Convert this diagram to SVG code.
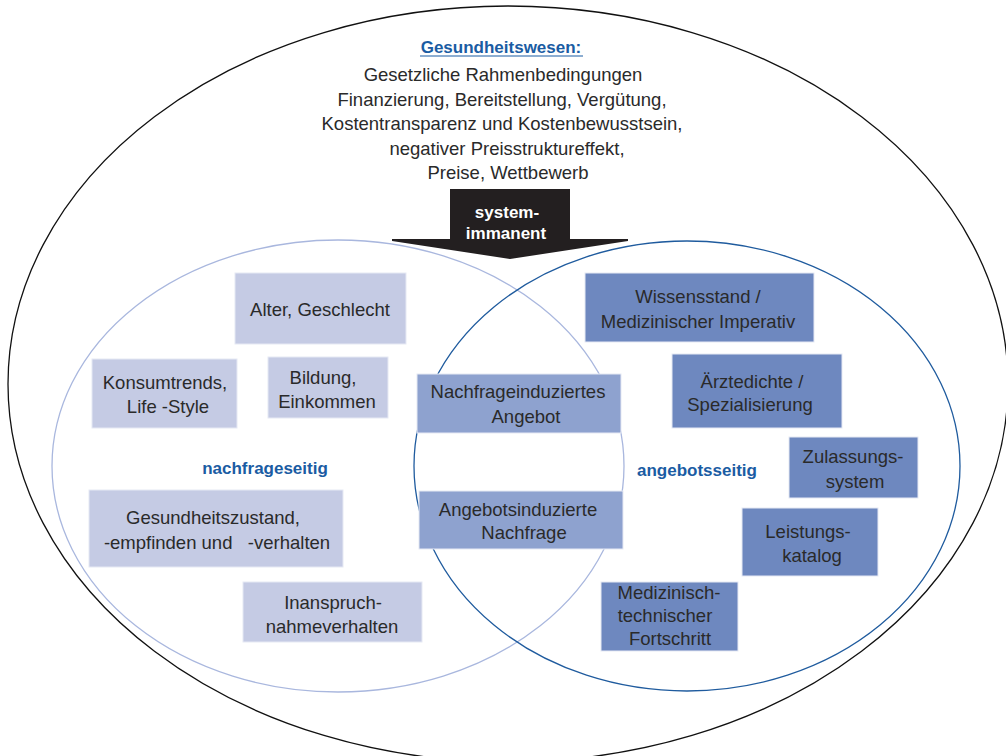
<svg xmlns="http://www.w3.org/2000/svg" width="1006" height="756" viewBox="0 0 1006 756">
<style>
.t{font-family:"Liberation Sans",Arial,sans-serif;font-size:18.5px;fill:#2a2a2a;text-anchor:middle}
.b{font-family:"Liberation Sans",Arial,sans-serif;font-size:17px;font-weight:bold;fill:#1a5ca3;text-anchor:middle}
.w{font-family:"Liberation Sans",Arial,sans-serif;font-size:17px;font-weight:bold;fill:#ffffff;text-anchor:middle}
.l{fill:#c5cbe4;stroke:#e6e9f4;stroke-width:1}
.m{fill:#8ea2cf;stroke:#e6e9f4;stroke-width:1}
.r{fill:#6e88bf;stroke:#e6e9f4;stroke-width:1}
</style>
<rect x="0" y="0" width="1006" height="756" fill="#ffffff"/>
<g id="connectors">
<ellipse id="outer" cx="508" cy="384" rx="500" ry="378" fill="none" stroke="#111111" stroke-width="1.3"/>
<ellipse id="left-circle" cx="338" cy="466" rx="286" ry="226" fill="none" stroke="#a9b7de" stroke-width="1.3"/>
<ellipse id="right-circle" cx="687" cy="466" rx="273" ry="225" fill="none" stroke="#1f5b9e" stroke-width="1.3"/>
</g>
<g id="header">
<text class="b" x="501" y="53">Gesundheitswesen:</text>
<line x1="420" y1="56" x2="583" y2="56" stroke="#1a5ca3" stroke-width="1.2"/>
<text class="t" x="503" y="81">Gesetzliche Rahmenbedingungen</text>
<text class="t" x="502" y="106">Finanzierung, Bereitstellung, Vergütung,</text>
<text class="t" x="502" y="130">Kostentransparenz und Kostenbewusstsein,</text>
<text class="t" x="507" y="155">negativer Preisstruktureffekt,</text>
<text class="t" x="508" y="179">Preise, Wettbewerb</text>
</g>
<g id="arrow">
<polygon points="450,189 570,189 570,239 628,239 628,241 510,259 392,241 392,239 450,239" fill="#231f20"/>
<text class="w" x="507" y="218">system-</text>
<text class="w" x="506" y="239">immanent</text>
</g>
<g id="n-alter"><rect class="l" x="235" y="273" width="171" height="71"/><text class="t" x="320" y="316">Alter, Geschlecht</text></g>
<g id="n-konsum"><rect class="l" x="92" y="359" width="145" height="69"/><text class="t" x="165" y="389">Konsumtrends,</text><text class="t" x="168" y="413">Life -Style</text></g>
<g id="n-bildung"><rect class="l" x="268" y="357" width="120" height="61"/><text class="t" x="323" y="384">Bildung,</text><text class="t" x="327" y="408">Einkommen</text></g>
<g id="n-nachfrageseitig"><text class="b" x="265" y="474">nachfrageseitig</text></g>
<g id="n-gesundheit"><rect class="l" x="89" y="490" width="254" height="77"/><text class="t" x="213" y="524">Gesundheitszustand,</text><text class="t" x="217" y="549" style="white-space:pre">-empfinden und   -verhalten</text></g>
<g id="n-inanspruch"><rect class="l" x="243" y="582" width="179" height="60"/><text class="t" x="333" y="609">Inanspruch-</text><text class="t" x="332" y="633">nahmeverhalten</text></g>
<g id="n-nia"><rect class="m" x="417" y="374" width="204" height="59"/><text class="t" x="518" y="398">Nachfrageinduziertes</text><text class="t" x="526" y="423">Angebot</text></g>
<g id="n-ain"><rect class="m" x="419" y="491" width="204" height="58"/><text class="t" x="518" y="516">Angebotsinduzierte</text><text class="t" x="524" y="539">Nachfrage</text></g>
<g id="n-wissen"><rect class="r" x="585" y="273" width="229" height="69"/><text class="t" x="698" y="303">Wissensstand /</text><text class="t" x="698" y="328">Medizinischer Imperativ</text></g>
<g id="n-aerzte"><rect class="r" x="672" y="354" width="170" height="74"/><text class="t" x="752" y="388">Ärztedichte /</text><text class="t" x="750" y="411">Spezialisierung</text></g>
<g id="n-angebotsseitig"><text class="b" x="697" y="476">angebotsseitig</text></g>
<g id="n-zulassung"><rect class="r" x="789" y="437" width="129" height="61"/><text class="t" x="853" y="463">Zulassungs-</text><text class="t" x="855" y="488">system</text></g>
<g id="n-leistung"><rect class="r" x="742" y="508" width="136" height="68"/><text class="t" x="808" y="538">Leistungs-</text><text class="t" x="812" y="562">katalog</text></g>
<g id="n-medtech"><rect class="r" x="601" y="582" width="137" height="69"/><text class="t" x="669" y="599">Medizinisch-</text><text class="t" x="665" y="622">technischer</text><text class="t" x="670" y="645">Fortschritt</text></g>
</svg>
